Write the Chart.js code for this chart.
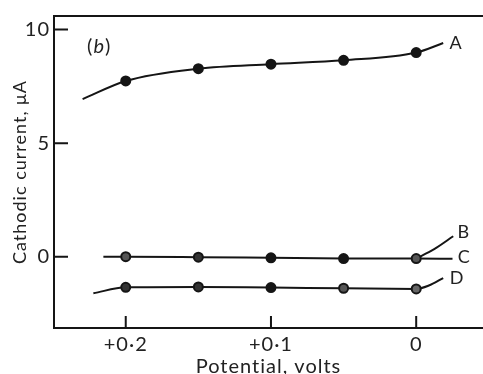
<!DOCTYPE html>
<html>
<head>
<meta charset="utf-8">
<script src="https://cdn.jsdelivr.net/npm/chart.js@4.4.0/dist/chart.umd.min.js"></script>
<style>
    html, body { margin: 0; padding: 0; background: #fff; }
    #chart { display: block; }
</style>
</head>
<body>
<canvas id="chart" width="483" height="374"></canvas>
<script>
// tick values and labels
const xTicks = [0.2, 0.1, 0];
const xTickLabels = ['+0·2', '+0·1', '0'];
const yTicks = [0, 5, 10];

// curve A
const potA = [0.2297, 0.2, 0.15, 0.1, 0.05, 0, -0.0186];
const currA = [6.94, 7.74, 8.28, 8.48, 8.65, 8.99, 9.41];
const markA = [0, 1, 1, 1, 1, 1, 0];

// curves B / C share their measured points
const potC = [0.2154, 0.2, 0.15, 0.1, 0.05, 0, -0.025];
const currC = [0.0, 0.0, -0.02, -0.05, -0.08, -0.08, -0.09];
const markC = [0, 1, 1, 1, 1, 1, 0];

// branch B leaving the last point
const potB = [0, -0.0121, -0.0255];
const currB = [-0.08, 0.32, 0.9];

// curve D
const potD = [0.2223, 0.2, 0.15, 0.1, 0.05, 0, -0.0087, -0.0186];
const currD = [-1.61, -1.35, -1.33, -1.36, -1.39, -1.42, -1.27, -0.94];
const markD = [0, 1, 1, 1, 1, 1, 0, 0];

const ink = '#151515';
const textColor = '#222';
const fontFamily = "Lato, 'Open Sans', 'DejaVu Sans', sans-serif";

function toPoints(xs, ys) {
    return xs.map((x, i) => ({ x: x, y: ys[i] }));
}

function makeSet(label, xs, ys, marks, fills) {
    return {
        label: label,
        data: toPoints(xs, ys),
        borderColor: ink,
        borderWidth: 2,
        cubicInterpolationMode: 'monotone',
        pointRadius: marks ? marks.map(m => m ? 4.5 : 0) : 0,
        pointBackgroundColor: fills || ink,
        pointBorderColor: ink,
        pointBorderWidth: 2,
        fill: false
    };
}

// curve labels, in data coordinates
const curveLabels = [
    { text: 'A', x: -0.0271, y: 9.41 },
    { text: 'B', x: -0.0324, y: 1.1 },
    { text: 'C', x: -0.0328, y: -0.04 },
    { text: 'D', x: -0.0278, y: -0.96 }
];

const decorations = {
    id: 'decorations',
    beforeDraw(chart) {
        // print-style loose lettering for axis text
        chart.ctx.letterSpacing = '1px';
    },
    afterDraw(chart) {
        const { ctx, chartArea, scales } = chart;
        const x = scales.x, y = scales.y;
        ctx.save();
        ctx.strokeStyle = ink;
        ctx.lineWidth = 2;
        ctx.beginPath();
        ctx.moveTo(chartArea.left, chartArea.top);
        ctx.lineTo(chartArea.right, chartArea.top);
        y.ticks.forEach(t => {
            const py = y.getPixelForValue(t.value);
            ctx.moveTo(chartArea.left, py);
            ctx.lineTo(chartArea.left + 14, py);
        });
        x.ticks.forEach(t => {
            const px = x.getPixelForValue(t.value);
            ctx.moveTo(px, chartArea.bottom);
            ctx.lineTo(px, chartArea.bottom - 12);
        });
        ctx.stroke();

        ctx.letterSpacing = '0px';
        ctx.fillStyle = textColor;
        ctx.textBaseline = 'middle';
        ctx.textAlign = 'center';
        ctx.font = '18px ' + fontFamily;
        curveLabels.forEach(l => {
            ctx.fillText(l.text, x.getPixelForValue(l.x), y.getPixelForValue(l.y));
        });

        // panel tag "(b)" with italic b
        const cx = x.getPixelForValue(0.2186);
        const cy = y.getPixelForValue(9.25);
        const upright = '20px ' + fontFamily;
        const italic = 'italic 20px ' + fontFamily;
        ctx.font = upright;
        const wParen = ctx.measureText('(').width;
        ctx.font = italic;
        const wB = ctx.measureText('b').width;
        let px = cx - (wParen * 2 + wB + 2) / 2;
        ctx.textAlign = 'left';
        ctx.font = upright;
        ctx.fillText('(', px, cy);
        px += wParen + 1;
        ctx.font = italic;
        ctx.fillText('b', px, cy);
        px += wB + 1;
        ctx.font = upright;
        ctx.fillText(')', px, cy);
        ctx.restore();
    }
};

const grey = '#555';
const fillsC = [ink, grey, '#333', ink, ink, grey, ink];
const fillsD = [ink, '#333', '#333', ink, grey, '#666', ink, ink];

const ctx = document.getElementById('chart').getContext('2d');
new Chart(ctx, {
    type: 'line',
    data: {
        datasets: [
            makeSet('A', potA, currA, markA),
            makeSet('C', potC, currC, markC, fillsC),
            makeSet('B', potB, currB, null),
            makeSet('D', potD, currD, markD, fillsD)
        ]
    },
    options: {
        responsive: false,
        animation: false,
        devicePixelRatio: 1,
        layout: { padding: { left: 0, top: 12, right: 0, bottom: 0 } },
        plugins: {
            legend: { display: false },
            tooltip: { enabled: false }
        },
        scales: {
            x: {
                type: 'linear',
                reverse: true,
                min: -0.046,
                max: 0.2494,
                afterBuildTicks: s => { s.ticks = xTicks.map(v => ({ value: v })); },
                afterFit: s => { s.height = 46; },
                grid: { display: false, drawTicks: false },
                border: { display: true, color: ink, width: 2 },
                ticks: {
                    color: textColor,
                    padding: 5,
                    maxRotation: 0,
                    font: { size: 20, family: fontFamily },
                    callback: v => {
                        const i = xTicks.findIndex(t => Math.abs(t - v) < 1e-9);
                        return i >= 0 ? xTickLabels[i] : '';
                    }
                },
                title: {
                    display: true,
                    text: 'Potential, volts',
                    color: textColor,
                    padding: 0,
                    font: { size: 20, family: fontFamily, lineHeight: 0.7 }
                }
            },
            y: {
                type: 'linear',
                min: -3.14,
                max: 10.6,
                afterBuildTicks: s => { s.ticks = yTicks.map(v => ({ value: v })); },
                afterFit: s => { s.width = 54; },
                grid: { display: false, drawTicks: false },
                border: { display: true, color: ink, width: 2 },
                ticks: {
                    color: textColor,
                    padding: 4,
                    font: { size: 20, family: fontFamily }
                },
                title: {
                    display: true,
                    text: 'Cathodic current, μA',
                    color: textColor,
                    padding: { top: 9, bottom: 0 },
                    font: { size: 18, family: fontFamily }
                }
            }
        }
    },
    plugins: [decorations]
});
</script>
</body>
</html>
